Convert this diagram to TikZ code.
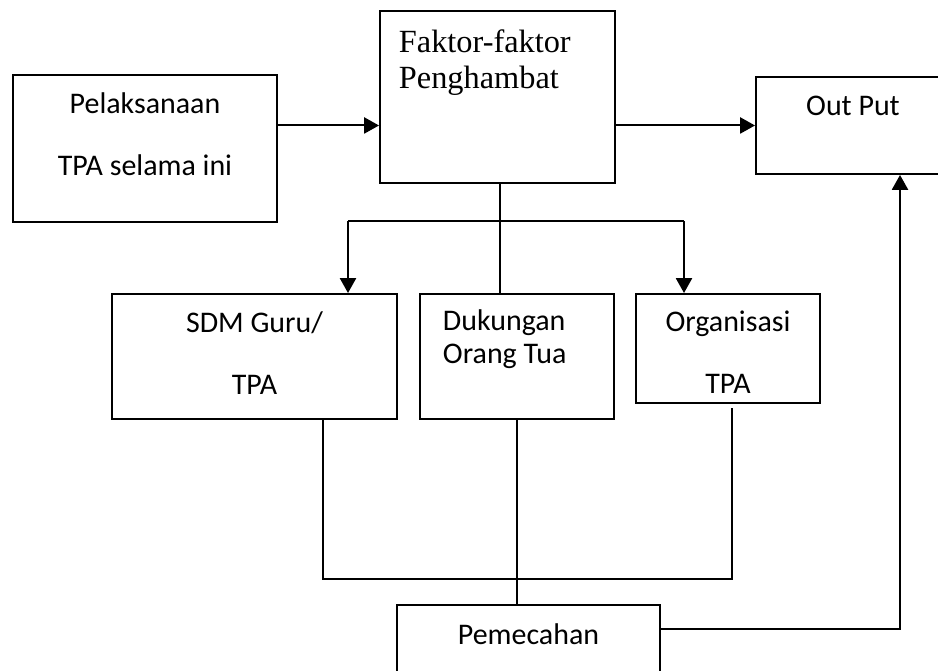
\documentclass[tikz,border=0pt]{standalone}
\usepackage{fontspec}
\setmainfont{Carlito}
\newfontfamily\timesfont{Liberation Serif}
\usepackage{tikz}
\usetikzlibrary{arrows.meta}
\tikzstyle{block} = [draw, line width=1.4pt, rectangle, anchor=north west, inner sep=0]
\tikzstyle{arrowline} = [-{Triangle[length=0.37cm, width=0.4cm]}, line width=1.4pt]
\tikzstyle{plainline} = [line width=1.4pt]

\begin{document}
\begin{tikzpicture}
      \useasboundingbox (0, 0) rectangle (23.45, -16.75);

      \node[block, text width=6.6cm, text height=0.975cm, text depth=2.7cm, align=flush center,
            font=\fontsize{21.3}{44.1}\selectfont] (pelak) at (0.3, -1.85) {Pelaksanaan\\TPA selama ini};
      \node[block, inner xsep=0.475cm, text width=4.925cm, text height=1.05cm, text depth=3.25cm, align=flush left,
            font=\timesfont\fontsize{23}{25.6}\selectfont] (faktor) at (9.475, -0.25) {Faktor-faktor\\Penghambat};
      \node[block, text width=4.85cm, text height=0.975cm, text depth=1.45cm, align=flush center,
            font=\fontsize{21.3}{25}\selectfont] (output) at (18.875, -1.9) {Out Put};

      \node[block, text width=7.125cm, text height=0.975cm, text depth=2.15cm, align=flush center,
            font=\fontsize{21.3}{43.4}\selectfont] (sdm) at (2.775, -7.325) {SDM Guru/\\TPA};
      \node[block, inner xsep=0.575cm, text width=3.7cm, text height=0.925cm, text depth=2.2cm, align=flush left,
            font=\fontsize{21.3}{22.8}\selectfont] (dukungan) at (10.475, -7.325) {Dukungan\\Orang Tua};
      \node[block, text width=4.6cm, text height=0.95cm, text depth=1.775cm, align=flush center,
            font=\fontsize{21.3}{44.1}\selectfont] (organisasi) at (15.875, -7.325) {Organisasi\hspace*{0.5cm}\\TPA};

      \node[block, text width=6.575cm, text height=1.0cm, text depth=0.775cm, align=flush center,
            font=\fontsize{21.3}{25}\selectfont] (pemecahan) at (9.9, -15.1) {Pemecahan};

      \coordinate (branch) at (12.5, -5.525);
      \coordinate (splitL) at (8.7, -5.525);
      \coordinate (splitR) at (17.1, -5.525);
      \coordinate (joinL) at (8.075, -14.475);
      \coordinate (joinR) at (18.3, -14.475);
      \coordinate (orgout) at (18.3, -10.2);
      \coordinate (back) at (22.5, -15.725);

      \draw[arrowline] (pelak.east |- output.west) -- (faktor.west |- output.west);
      \draw[arrowline] (faktor.east |- output.west) -- (output.west);

      \draw[plainline] (branch |- faktor.south) -- (branch |- dukungan.north);
      \draw[plainline] (splitL) -- (splitR);
      \draw[arrowline] (splitL) -- (splitL |- sdm.north);
      \draw[arrowline] (splitR) -- (splitR |- organisasi.north);

      \draw[plainline] (joinL |- sdm.south) -- (joinL) -- (joinR) -- (orgout);
      \draw[plainline] (dukungan.south) -- (dukungan.south |- pemecahan.north);
      \draw[arrowline] (pemecahan.east |- back) -- (back) -- (back |- output.south);
    \end{tikzpicture}
\end{document}
